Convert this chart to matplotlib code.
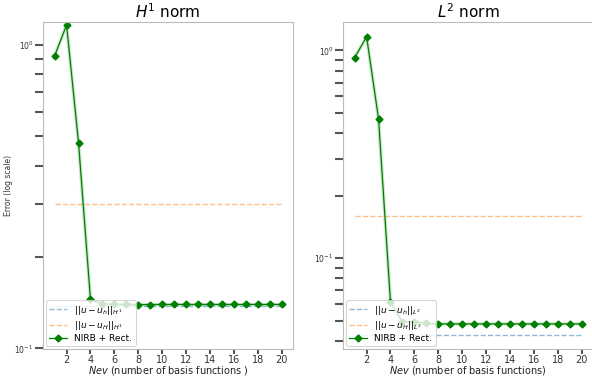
import numpy as np
import matplotlib
matplotlib.use("Agg")
import matplotlib.pyplot as plt

# number of basis functions
nev = np.arange(1, 21)

# H1 errors
h1_nirb = [0.92, 1.164, 0.476, 0.145, 0.1400, 0.1398, 0.1396, 0.1394, 0.1394, 0.1395,
           0.1395, 0.1395, 0.1395, 0.1395, 0.1395, 0.1395, 0.1395, 0.1395, 0.1395, 0.1395]
h1_fine = [0.1377] * 20
h1_coarse = [0.298] * 20

# L2 errors
l2_nirb = [0.923, 1.163, 0.468, 0.0614, 0.0492, 0.0495, 0.0485, 0.0482, 0.0482, 0.0482,
           0.0482, 0.0482, 0.0482, 0.0482, 0.0482, 0.0482, 0.0482, 0.0482, 0.0482, 0.0482]
l2_fine = [0.0428] * 20
l2_coarse = [0.159] * 20

xticks = [2, 4, 6, 8, 10, 12, 14, 16, 18, 20]

fig = plt.figure(figsize=(5.92, 3.76), dpi=100)
ax1 = fig.add_axes([0.0731, 0.0718, 0.4218, 0.8696])
ax2 = fig.add_axes([0.5799, 0.0718, 0.4218, 0.8696])


def draw(ax, nirb, fine, coarse, norm, title, xlab, ylim):
    ax.plot(nev, fine, '--', color='tab:blue', alpha=0.5, lw=1,
            label=r'$||u-u_h||_{%s}$' % norm)
    ax.plot(nev, coarse, '--', color='tab:orange', alpha=0.5, lw=1,
            label=r'$||u-u_H||_{%s}$' % norm)
    ax.plot(nev, nirb, color='green', lw=2.5, alpha=0.2)
    ax.plot(nev, nirb, '-D', color='green', lw=0.9, ms=3.5, label='NIRB + Rect.')
    ax.set_yscale('log')
    ax.set_ylim(*ylim)
    ax.set_xticks(xticks)
    ax.set_title(title, fontsize=11, pad=3)
    ax.set_xlabel(xlab, fontsize=7, color='#222222', labelpad=-1)
    for s in ax.spines.values():
        s.set_color('#bbbbbb')
    ax.tick_params(axis='x', which='major', length=3.5, width=1.2, color='#333333',
                   labelsize=7, labelcolor='#333333', pad=1)
    ax.tick_params(axis='y', which='major', length=6, width=1.5, color='#555555',
                   labelsize=5.5, labelcolor='#333333', pad=1)
    ax.tick_params(axis='y', which='minor', length=6, width=1.5, color='#555555',
                   labelleft=False)
    leg = ax.legend(loc='lower left', fontsize=6.5, framealpha=0.8,
                    edgecolor='#cccccc', borderaxespad=0.3, handlelength=2,
                    labelspacing=0.25, borderpad=0.35)
    leg.get_frame().set_linewidth(0.8)


draw(ax1, h1_nirb, h1_fine, h1_coarse, 'H^1', r'$H^1$ norm',
     r'$Nev$ (number of basis functions )', (0.0995, 1.19))
draw(ax2, l2_nirb, l2_fine, l2_coarse, 'L^2', r'$L^2$ norm',
     r'$Nev$ (number of basis functions)', (0.0365, 1.37))
ax1.set_ylabel('Error (log scale)', fontsize=5.5, color='#333333')
ax1.yaxis.set_label_coords(-0.12, 0.5)

fig.savefig('out.png', dpi=100)
